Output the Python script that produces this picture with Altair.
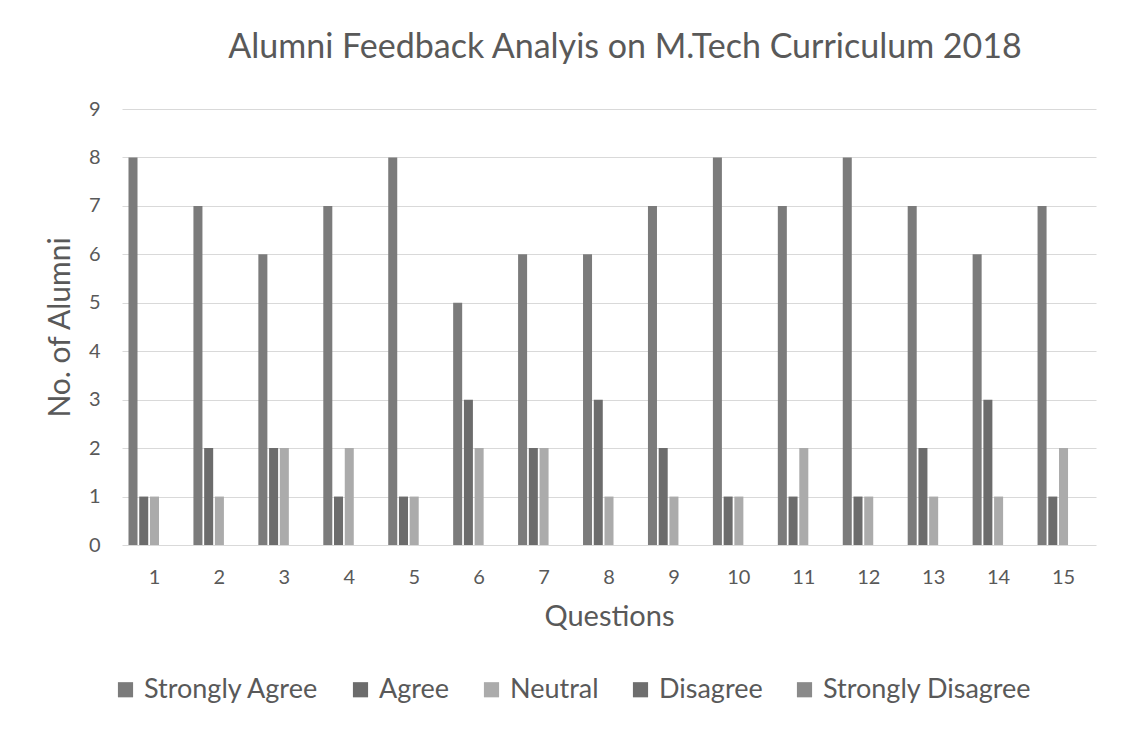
import altair as alt
import pandas as pd

questions = [str(i) for i in range(1, 16)]
series = ["Strongly Agree", "Agree", "Neutral", "Disagree", "Strongly Disagree"]
strongly_agree = [8, 7, 6, 7, 8, 5, 6, 6, 7, 8, 7, 8, 7, 6, 7]
agree = [1, 2, 2, 1, 1, 3, 2, 3, 2, 1, 1, 1, 2, 3, 1]
neutral = [1, 1, 2, 2, 1, 2, 2, 1, 1, 1, 2, 1, 1, 1, 2]
disagree = [0] * 15
strongly_disagree = [0] * 15
colors = ["#7b7b7b", "#6c6c6c", "#ababab", "#6e6e6e", "#8a8a8a"]

rows = []
for s, vals in zip(series, [strongly_agree, agree, neutral, disagree, strongly_disagree]):
    for q, v in zip(questions, vals):
        rows.append({"Question": q, "Response": s, "Count": v})
df = pd.DataFrame(rows)

FONT = "Lato"
TXT = "#595959"

chart = alt.Chart(df).mark_bar().encode(
    x=alt.X("Question:N", sort=questions,
            scale=alt.Scale(paddingInner=0.2, paddingOuter=0.1),
            axis=alt.Axis(title="Questions", labelAngle=0, ticks=False, domain=False,
                          labelFontSize=20, labelPadding=22, titleFontSize=29,
                          titlePadding=15, labelColor=TXT, titleColor=TXT,
                          labelFont=FONT, titleFont=FONT, titleFontWeight="normal")),
    xOffset=alt.XOffset("Response:N", sort=series,
                        scale=alt.Scale(domain=series, paddingInner=0.16, paddingOuter=0)),
    y=alt.Y("Count:Q", scale=alt.Scale(domain=[0, 9]),
            axis=alt.Axis(title="No. of Alumni", values=list(range(10)), ticks=False,
                          domain=False, gridColor="#d9d9d9", labelFontSize=20,
                          labelPadding=22, titleFontSize=30, titlePadding=13,
                          labelColor=TXT, titleColor=TXT, labelFont=FONT,
                          titleFont=FONT, titleFontWeight="normal")),
    color=alt.Color("Response:N", sort=series,
                    scale=alt.Scale(domain=series, range=colors),
                    legend=alt.Legend(title=None, orient="none", direction="horizontal",
                                      legendX=-10, legendY=567, padding=0,
                                      symbolType="square", symbolSize=230,
                                      symbolStrokeWidth=0, labelFontSize=27,
                                      labelFont=FONT, labelColor=TXT, columnPadding=28,
                                      labelOffset=5, labelLimit=400)),
).properties(
    width=974, height=436,
    title=alt.TitleParams("Alumni Feedback Analyis on M.Tech Curriculum 2018",
                          fontSize=34, font=FONT, color=TXT, fontWeight="normal",
                          offset=34, dx=16),
    padding={"left": 37, "top": 23, "right": 10, "bottom": 10},
).configure_view(stroke=None).configure_axisX(grid=False)

chart.save("out.html", embed_options={"renderer": "svg", "actions": False})
